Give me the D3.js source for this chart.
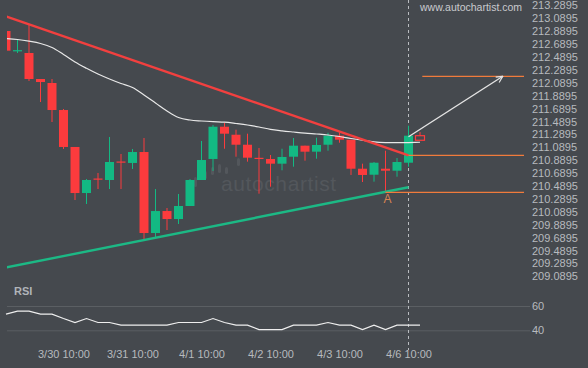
<!DOCTYPE html>
<html>
<head>
<meta charset="utf-8">
<script src="https://cdn.jsdelivr.net/npm/d3@7.9.0/dist/d3.min.js"></script>
<style>
  html, body { margin: 0; padding: 0; background: #45494e; }
  svg { display: block; font-family: "Liberation Sans", Arial, sans-serif; }
  .axis text { fill: #b7babe; font-size: 11px; }
  .axis path { display: none; }
</style>
</head>
<body>
<svg id="chart" width="588" height="368"></svg>
<script>
// 4h candles, 3/29 .. 4/6
const candleOpen  = [212.877, 212.570, 212.536, 212.133, 212.071, 211.652, 211.079, 210.365, 210.590, 210.567,
                     210.854, 210.831, 211.001, 209.745, 210.086, 209.962, 210.164, 210.567, 210.893, 211.393,
                     211.269, 211.114, 210.911, 210.893, 210.820, 210.928, 211.099, 211.006, 211.114, 211.254,
                     211.192, 210.742, 210.649, 210.742, 210.711, 210.835, 211.254];
const candleHigh  = [212.877, 212.753, 212.970, 212.133, 212.133, 211.668, 211.079, 210.582, 210.676, 211.234,
                     210.970, 211.048, 211.218, 210.427, 210.133, 210.350, 210.582, 211.172, 211.420, 211.455,
                     211.347, 211.285, 211.063, 210.955, 211.052, 211.218, 211.099, 211.223, 211.300, 211.307,
                     211.192, 210.820, 210.846, 211.021, 210.908, 211.409, 211.311];
const candleLow   = [212.572, 212.536, 212.102, 211.776, 211.466, 211.048, 210.257, 210.195, 210.427, 210.427,
                     210.427, 210.738, 209.652, 209.683, 209.792, 209.885, 210.164, 210.567, 210.707, 211.052,
                     210.928, 210.851, 210.355, 210.463, 210.717, 210.773, 210.866, 210.897, 211.021, 211.145,
                     210.645, 210.536, 210.541, 210.386, 210.618, 210.773, 211.183];
const candleClose = [212.572, 212.580, 212.133, 212.086, 211.652, 211.079, 210.365, 210.567, 210.575, 210.846,
                     210.838, 211.001, 209.745, 210.086, 209.962, 210.164, 210.567, 210.877, 211.393, 211.285,
                     211.114, 210.913, 210.896, 210.820, 210.924, 211.099, 211.006, 211.110, 211.254, 211.192,
                     210.742, 210.645, 210.835, 210.711, 210.846, 211.254, 211.183];

const maValues = [212.759, 212.745, 212.719, 212.683, 212.621, 212.513, 212.396, 212.299, 212.210, 212.133,
                  212.063, 212.001, 211.885, 211.761, 211.637, 211.536, 211.497, 211.482, 211.471, 211.463,
                  211.443, 211.420, 211.389, 211.353, 211.330, 211.311, 211.293, 211.280, 211.265, 211.241,
                  211.210, 211.183, 211.159, 211.148, 211.145, 211.148, 211.152];

const rsiValues = [53.3, 55.8, 55.8, 53.3, 53.3, 49.7, 46.4, 49.7, 46.4, 46.4,
                   44.2, 44.2, 44.2, 44.2, 44.2, 46.4, 46.4, 46.4, 49.7, 46.4,
                   44.2, 44.2, 40.6, 40.6, 40.6, 44.2, 44.2, 44.2, 46.4, 44.2,
                   44.2, 40.6, 44.2, 40.6, 44.2, 44.2, 44.2];

const priceTicks = [213.2895, 213.0895, 212.8895, 212.6895, 212.4895, 212.2895, 212.0895, 211.8895,
                    211.6895, 211.4895, 211.2895, 211.0895, 210.8895, 210.6895, 210.4895, 210.2895,
                    210.0895, 209.8895, 209.6895, 209.4895, 209.2895, 209.0895];
const rsiTicks = [40, 60];
const timeTickIndex = [5, 11, 17, 23, 29, 35];
const timeLabels = ['3/30 10:00', '3/31 10:00', '4/1 10:00', '4/2 10:00', '4/3 10:00', '4/6 10:00'];

// pattern: triangle + forecast
const resistanceLine = [[0, 213.104], [35, 210.950]];
const supportLine = [[0, 209.210], [35, 210.454]];
const forecastArrow = [[35, 211.238], [43.2, 212.175]];
const forecastLevel = 212.175;
const breakoutLevel = 210.950;
const pointALevel = 210.376;
const pointAIndex = 33;
const lastIndex = 35;

const plotLeft = 7, plotRight = 530;

const svg = d3.select('#chart');

const x = d3.scaleLinear().domain([0, 36]).range([6, 420]);
const y = d3.scaleLinear().domain([209.0895, 213.2895]).range([275.3, 4.4]);
const rsiY = d3.scaleLinear().domain([40, 60]).range([330.3, 306]);

const red = '#fc3b3d';
const green = '#13b983';
const orange = '#f07b3c';

svg.append('defs').append('clipPath').attr('id', 'plot-clip')
  .append('rect').attr('x', plotLeft).attr('y', 0).attr('width', plotRight - plotLeft).attr('height', 282);

svg.append('defs').append('marker')
  .attr('id', 'arrow-head')
  .attr('viewBox', '0 0 10 10')
  .attr('refX', 9).attr('refY', 5)
  .attr('markerWidth', 8).attr('markerHeight', 8)
  .attr('markerUnits', 'userSpaceOnUse')
  .attr('orient', 'auto')
  .append('path')
  .attr('d', 'M1,1 L9,5 L1,9')
  .attr('fill', 'none')
  .attr('stroke', '#e4e4e4')
  .attr('stroke-width', 1.5);

// watermark
const wm = svg.append('g').attr('fill', '#53575c');
[[194, 177, 10], [204, 171, 8], [211, 167, 8], [218, 164, 9], [225, 167, 7], [237, 158, 8]].forEach(([bx, by, bh]) => {
  wm.append('rect').attr('x', bx).attr('y', by).attr('width', 3).attr('height', bh).attr('rx', 1.5);
});
wm.append('text')
  .attr('x', 221).attr('y', 191)
  .attr('font-size', 21)
  .attr('letter-spacing', 0.6)
  .text('autochartist');

svg.append('text')
  .attr('x', 420).attr('y', 11)
  .attr('fill', '#c9cbce')
  .attr('font-size', 10.5)
  .text('www.autochartist.com');

// price axis
svg.append('g')
  .attr('class', 'axis')
  .attr('transform', `translate(${plotRight},1)`)
  .call(d3.axisRight(y).tickValues(priceTicks).tickSize(0).tickPadding(2).tickFormat(d3.format('.4f')));

// RSI grid + axis
const rsiAxis = svg.append('g')
  .attr('class', 'axis')
  .attr('transform', `translate(${plotRight},0)`)
  .call(d3.axisRight(rsiY).tickValues(rsiTicks).tickSize(-(plotRight - plotLeft)).tickPadding(2));
rsiAxis.selectAll('line').attr('stroke', '#5b5f63');

// time axis
svg.append('g')
  .attr('class', 'axis')
  .attr('transform', 'translate(0,347)')
  .call(d3.axisBottom(x).tickValues(timeTickIndex).tickSize(0).tickPadding(3)
    .tickFormat((d, i) => timeLabels[i]));

svg.append('text')
  .attr('x', 14).attr('y', 295)
  .attr('fill', '#b0b4b9')
  .attr('font-size', 11)
  .attr('font-weight', 'bold')
  .text('RSI');

// current candle marker
svg.append('line')
  .attr('x1', x(lastIndex)).attr('x2', x(lastIndex))
  .attr('y1', 0).attr('y2', 350)
  .attr('stroke', '#b9bcc0')
  .attr('stroke-dasharray', '3,3');

const plot = svg.append('g').attr('clip-path', 'url(#plot-clip)');

const candles = candleOpen.map((o, i) => ({
  i, open: o, high: candleHigh[i], low: candleLow[i], close: candleClose[i]
}));
const lastCandle = candles.length - 1;

const candleG = plot.selectAll('g.candle').data(candles).join('g').attr('class', 'candle');
candleG.append('line')
  .attr('x1', (d) => x(d.i)).attr('x2', (d) => x(d.i))
  .attr('y1', (d) => y(d.high)).attr('y2', (d) => y(d.low))
  .attr('stroke', (d) => (d.close < d.open ? red : green));
candleG.append('rect')
  .attr('x', (d) => x(d.i) - 4.5)
  .attr('width', 9)
  .attr('y', (d) => y(Math.max(d.open, d.close)))
  .attr('height', (d) => Math.max(1.2, Math.abs(y(d.open) - y(d.close))))
  .attr('fill', (d) => (d.i === lastCandle ? '#45494e' : d.close < d.open ? red : green))
  .attr('stroke', (d) => (d.i === lastCandle ? red : 'none'))
  .attr('stroke-width', 1.2);

// moving average
plot.append('path')
  .datum(maValues)
  .attr('d', d3.line().x((d, i) => x(i)).y((d) => y(d)).curve(d3.curveMonotoneX))
  .attr('fill', 'none')
  .attr('stroke', '#e8e8e8')
  .attr('stroke-width', 1.2);

// trend lines
const trend = d3.line().x((d) => x(d[0])).y((d) => y(d[1]));
plot.append('path').datum(resistanceLine).attr('d', trend)
  .attr('stroke', '#f2403f').attr('stroke-width', 2.4).attr('fill', 'none');
plot.append('path').datum(supportLine).attr('d', trend)
  .attr('stroke', '#1cb985').attr('stroke-width', 2.4).attr('fill', 'none');

// levels
const levelEnd = x.invert(524);
[[forecastLevel, 36.2], [breakoutLevel, lastIndex], [pointALevel, pointAIndex]].forEach(([lvl, from]) => {
  svg.append('line')
    .attr('x1', x(from)).attr('x2', x(levelEnd))
    .attr('y1', y(lvl)).attr('y2', y(lvl))
    .attr('stroke', orange)
    .attr('stroke-width', 1.3);
});

svg.append('path').datum(forecastArrow).attr('d', trend)
  .attr('stroke', '#e4e4e4').attr('stroke-width', 1.4).attr('fill', 'none')
  .attr('marker-end', 'url(#arrow-head)');

svg.append('text')
  .attr('x', x(pointAIndex) + 2).attr('y', y(pointALevel) + 11)
  .attr('text-anchor', 'middle')
  .attr('fill', '#d98450')
  .attr('font-size', 12)
  .text('A');

// RSI line
svg.append('path')
  .datum(rsiValues)
  .attr('d', d3.line().x((d, i) => x(i)).y((d) => rsiY(d)))
  .attr('fill', 'none')
  .attr('stroke', '#eeeeee')
  .attr('stroke-width', 1.2);
</script>
</body>
</html>
